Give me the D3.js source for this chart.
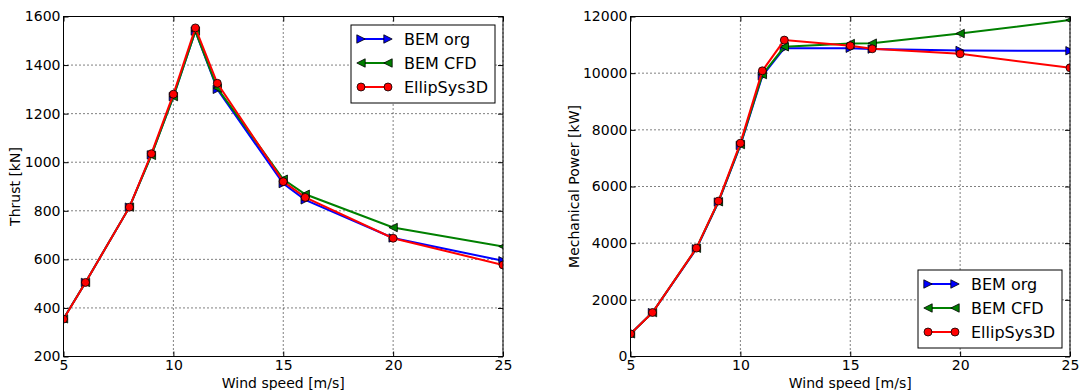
<!DOCTYPE html>
<html>
<head>
<meta charset="utf-8">
<script src="https://cdn.jsdelivr.net/npm/d3@7"></script>
<style>
  body { margin: 0; background: #fff; }
  svg { display: block; font-family: "DejaVu Sans", sans-serif; }
</style>
</head>
<body>
<svg id="chart" width="1080" height="390"></svg>
<script>
// Wind speeds shared by both panels [m/s]
const windSpeed = [5, 6, 8, 9, 10, 11, 12, 15, 16, 20, 25];

// Rotor thrust [kN]
const thrustBemOrg   = [355, 505, 815, 1030, 1270, 1540, 1300, 912, 845, 688, 594];
const thrustBemCfd   = [355, 505, 815, 1028, 1270, 1540, 1305, 930, 868, 731, 653];
const thrustEllipSys = [354, 505, 815, 1035, 1280, 1553, 1325, 920, 855, 687, 577];

// Mechanical power [kW]
const powerBemOrg   = [800, 1550, 3800, 5450, 7450, 9900, 10880, 10880, 10850, 10800, 10790];
const powerBemCfd   = [800, 1550, 3820, 5460, 7480, 9950, 10930, 11045, 11060, 11400, 11873];
const powerEllipSys = [800, 1553, 3826, 5485, 7530, 10083, 11167, 10966, 10860, 10684, 10190];

const xTicks = [5, 10, 15, 20, 25];
const thrustTicks = [200, 400, 600, 800, 1000, 1200, 1400, 1600];
const powerTicks = [0, 2000, 4000, 6000, 8000, 10000, 12000];

const seriesNames = ["BEM org", "BEM CFD", "EllipSys3D"];
const seriesColors = ["#0000ff", "#008000", "#ff0000"];
const seriesMarkers = ["right", "left", "circle"];

const svg = d3.select("#chart");
const plain = d3.format("d");

function markerPath(kind, r) {
  if (kind === "right") return `M${-r},${-r}L${r},0L${-r},${r}Z`;
  if (kind === "left") return `M${r},${-r}L${-r},0L${r},${r}Z`;
  return null;
}

function drawMarker(g, kind, color, x, y) {
  if (kind === "circle") {
    g.append("circle").attr("cx", x).attr("cy", y).attr("r", 4)
      .attr("fill", color).attr("stroke", "#000").attr("stroke-width", 0.8);
  } else {
    g.append("path").attr("transform", `translate(${x},${y})`)
      .attr("d", markerPath(kind, 4.2))
      .attr("fill", color).attr("stroke", "#000").attr("stroke-width", 0.8);
  }
}

function panel(opts) {
  const { id, left, right, top, bottom, yDomain, yTicks, yLabel, yLabelX, series, legendBox } = opts;
  const x = d3.scaleLinear().domain([5, 25]).range([left, right]);
  const y = d3.scaleLinear().domain(yDomain).range([bottom, top]);
  const g = svg.append("g");

  // dotted grid
  const grid = g.append("g").attr("stroke", "#000").attr("stroke-width", 1)
    .attr("stroke-dasharray", "1,3");
  xTicks.forEach(t => grid.append("line")
    .attr("x1", x(t)).attr("x2", x(t)).attr("y1", top).attr("y2", bottom));
  yTicks.forEach(t => grid.append("line")
    .attr("x1", left).attr("x2", right).attr("y1", y(t)).attr("y2", y(t)));

  // axes with inward ticks
  const axB = g.append("g").attr("transform", `translate(0,${bottom})`)
    .call(d3.axisBottom(x).tickValues(xTicks).tickSizeInner(-5).tickSizeOuter(0)
      .tickPadding(4).tickFormat(plain));
  const axT = g.append("g").attr("transform", `translate(0,${top})`)
    .call(d3.axisTop(x).tickValues(xTicks).tickSizeInner(-5).tickSizeOuter(0).tickFormat(""));
  const axL = g.append("g").attr("transform", `translate(${left},0)`)
    .call(d3.axisLeft(y).tickValues(yTicks).tickSizeInner(-5).tickSizeOuter(0)
      .tickPadding(3).tickFormat(plain));
  const axR = g.append("g").attr("transform", `translate(${right},0)`)
    .call(d3.axisRight(y).tickValues(yTicks).tickSizeInner(-5).tickSizeOuter(0).tickFormat(""));
  [axB, axT, axL, axR].forEach(a => {
    a.select(".domain").remove();
    a.selectAll("line").attr("stroke", "#000");
    a.selectAll("text").attr("font-size", 14).attr("fill", "#000")
      .attr("font-family", "DejaVu Sans, sans-serif");
  });

  // plot clip
  const clipId = "clip-" + id;
  svg.append("defs").append("clipPath").attr("id", clipId)
    .append("rect").attr("x", left).attr("y", top)
    .attr("width", right - left).attr("height", bottom - top);

  const plot = g.append("g").attr("clip-path", `url(#${clipId})`);
  const line = d3.line().x((d, i) => x(windSpeed[i])).y(d => y(d));
  series.forEach((vals, s) => {
    plot.append("path").datum(vals).attr("d", line)
      .attr("fill", "none").attr("stroke", seriesColors[s]).attr("stroke-width", 2);
    vals.forEach((v, i) => drawMarker(plot, seriesMarkers[s], seriesColors[s], x(windSpeed[i]), y(v)));
  });

  // frame
  g.append("rect").attr("x", left).attr("y", top)
    .attr("width", right - left).attr("height", bottom - top)
    .attr("fill", "none").attr("stroke", "#000").attr("stroke-width", 1);

  // axis titles
  g.append("text").attr("x", (left + right) / 2).attr("y", 388)
    .attr("text-anchor", "middle").attr("font-size", 14).text("Wind speed [m/s]");
  g.append("text")
    .attr("transform", `translate(${yLabelX},${(top + bottom) / 2}) rotate(-90)`)
    .attr("text-anchor", "middle").attr("font-size", 14).text(yLabel);

  // legend
  const lg = g.append("g");
  lg.append("rect").attr("x", legendBox.x).attr("y", legendBox.y)
    .attr("width", legendBox.w).attr("height", legendBox.h)
    .attr("fill", "#fff").attr("stroke", "#000").attr("stroke-width", 1);
  seriesNames.forEach((name, s) => {
    const cy = legendBox.y + 14 + s * 24;
    const x0 = legendBox.x + 10, x1 = legendBox.x + 37;
    lg.append("line").attr("x1", x0).attr("x2", x1).attr("y1", cy).attr("y2", cy)
      .attr("stroke", seriesColors[s]).attr("stroke-width", 2);
    drawMarker(lg, seriesMarkers[s], seriesColors[s], x0, cy);
    drawMarker(lg, seriesMarkers[s], seriesColors[s], x1, cy);
    lg.append("text").attr("x", legendBox.x + 53).attr("y", cy + 6)
      .attr("font-size", 16).text(name);
  });
}

panel({
  id: "thrust", left: 63.5, right: 503, top: 16.5, bottom: 356.5,
  yDomain: [200, 1600], yTicks: thrustTicks, yLabel: "Thrust [kN]", yLabelX: 20,
  series: [thrustBemOrg, thrustBemCfd, thrustEllipSys],
  legendBox: { x: 351, y: 25, w: 144, h: 78 }
});

panel({
  id: "power", left: 630.5, right: 1070, top: 16.5, bottom: 356.5,
  yDomain: [0, 12000], yTicks: powerTicks, yLabel: "Mechanical Power [kW]", yLabelX: 579,
  series: [powerBemOrg, powerBemCfd, powerEllipSys],
  legendBox: { x: 918, y: 270, w: 144, h: 78 }
});
</script>
</body>
</html>
